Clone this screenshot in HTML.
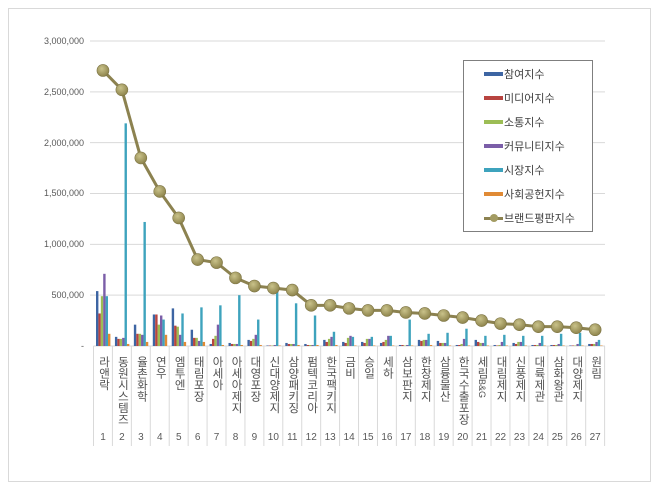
<!DOCTYPE html>
<html><head><meta charset="utf-8">
<style>
body{margin:0;background:#fff;}
#wrap{position:relative;width:660px;height:491px;overflow:hidden;font-family:"Liberation Sans","Noto Sans CJK KR",sans-serif;}
.frame{position:absolute;left:8px;top:8px;width:643px;height:474px;border:1px solid #d9d9d9;box-sizing:border-box;}
.yl{position:absolute;right:576px;font-size:9px;color:#595959;transform:translateY(-50%);}
.cl{position:absolute;top:356px;width:19px;writing-mode:vertical-rl;text-orientation:upright;font-size:11.5px;letter-spacing:0px;color:#505050;line-height:19px;text-align:left;font-family:"Liberation Sans","Noto Sans CJK KR",sans-serif;}
.cl span{text-orientation:mixed;font-size:9px;}
.cn{position:absolute;top:432px;width:19px;text-align:center;font-size:10px;color:#595959;}
.leg{position:absolute;left:463px;top:60px;width:130px;height:172px;border:1px solid #7f7f7f;box-sizing:border-box;background:#fff;}
.li{position:absolute;left:40px;font-size:11px;color:#404040;}
.sw{position:absolute;left:20px;width:19px;height:4px;}
</style></head><body>
<div id="wrap">
<div class="frame"></div>
<svg id="s" width="660" height="491" style="position:absolute;left:0;top:0"></svg>
<div class="yl" style="top:41px">3,000,000</div>
<div class="yl" style="top:92px">2,500,000</div>
<div class="yl" style="top:143px">2,000,000</div>
<div class="yl" style="top:193px">1,500,000</div>
<div class="yl" style="top:244px">1,000,000</div>
<div class="yl" style="top:295px">500,000</div>
<div class="yl" style="top:346px">-</div>
<div id="labels"></div>
<div class="leg">
<div class="sw" style="top:11px;background:#3d65a3"></div><div class="li" style="top:5px">참여지수</div>
<div class="sw" style="top:35px;background:#b84440"></div><div class="li" style="top:29px">미디어지수</div>
<div class="sw" style="top:59px;background:#9cbd55"></div><div class="li" style="top:53px">소통지수</div>
<div class="sw" style="top:83px;background:#7b5ea8"></div><div class="li" style="top:77px">커뮤니티지수</div>
<div class="sw" style="top:107px;background:#3ea3bd"></div><div class="li" style="top:101px">시장지수</div>
<div class="sw" style="top:131px;background:#e08a35"></div><div class="li" style="top:125px">사회공헌지수</div>
<div class="sw" style="top:156px;height:3px;background:#8c8250"></div><div style="position:absolute;left:26px;top:153px;width:8px;height:8px;border-radius:50%;background:#a39b62"></div><div class="li" style="top:149px">브랜드평판지수</div>
</div>
</div>
<script>
var names=["라앤락","동원시스템즈","율촌화학","연우","엠투엔","태림포장","아세아","아세아제지","대영포장","신대양제지","삼양패키징","펌텍코리아","한국팩키지","금비","승일","세하","삼보판지","한창제지","삼륭물산","한국수출포장","세림<span>B&amp;G</span>","대림제지","신풍제지","대륙제관","삼화왕관","대양제지","원림"];
var line=[2710,2520,1850,1520,1260,850,820,670,590,570,550,400,400,370,350,350,330,320,300,280,250,220,210,190,190,180,160];
var bars=[[540,320,490,710,490,120],[90,70,70,80,2190,20],[210,120,120,110,1220,40],[310,310,210,300,260,110],[370,200,190,110,320,40],[160,80,80,50,380,40],[20,70,100,210,400,10],[30,20,20,20,500,10],[60,50,70,110,260,10],[5,5,5,10,560,5],[30,20,20,20,420,10],[20,10,10,10,300,10],[60,40,70,90,140,10],[40,30,80,100,90,5],[40,30,70,70,90,5],[30,40,60,100,100,5],[10,10,5,10,260,5],[60,50,60,60,120,10],[50,30,30,30,130,5],[10,10,20,70,170,5],[60,40,30,30,100,5],[10,5,10,40,110,5],[30,20,40,40,100,5],[10,10,10,30,100,5],[10,10,10,20,120,5],[5,5,5,20,130,5],[20,20,20,40,60,5]];
var cols=["#3d65a3","#b84440","#9cbd55","#7b5ea8","#3ea3bd","#e08a35"];
var x0=93.5,w=18.93,y0=346,k=305/3000;
var s='<defs><radialGradient id="g" cx="0.4" cy="0.35" r="0.7"><stop offset="0" stop-color="#c9c28a"/><stop offset="1" stop-color="#8a8048"/></radialGradient></defs>';
for(var i=1;i<=6;i++){var y=y0-i*500*k;s+='<line x1="90" x2="605" y1="'+y+'" y2="'+y+'" stroke="#d9d9d9"/>';}
s+='<line x1="93.5" x2="605" y1="346" y2="346" stroke="#d9d9d9"/>';
for(var c=0;c<=27;c++){var x=x0+c*w;s+='<line x1="'+x+'" x2="'+x+'" y1="346" y2="446" stroke="#d9d9d9"/>';}
for(var c=0;c<27;c++){for(var j=0;j<6;j++){var h=bars[c][j]*k;s+='<rect x="'+(x0+c*w+2.5+j*2.4)+'" y="'+(y0-h)+'" width="2.4" height="'+h+'" fill="'+cols[j]+'"/>';}}
var pts=line.map(function(v,c){return (x0+c*w+w/2)+','+(y0-v*k)});
s+='<polyline points="'+pts.join(' ')+'" fill="none" stroke="#8c8250" stroke-width="3"/>';
pts.forEach(function(p){var a=p.split(',');s+='<circle cx="'+a[0]+'" cy="'+a[1]+'" r="6" fill="url(#g)" stroke="#7d7444" stroke-width="0.6"/>';});
document.getElementById('s').innerHTML=s;
var L='';
names.forEach(function(n,c){var x=x0+c*w;L+='<div class="cl" style="left:'+x+'px">'+n+'</div><div class="cn" style="left:'+x+'px">'+(c+1)+'</div>';});
document.getElementById('labels').innerHTML=L;
</script>
</body></html>
